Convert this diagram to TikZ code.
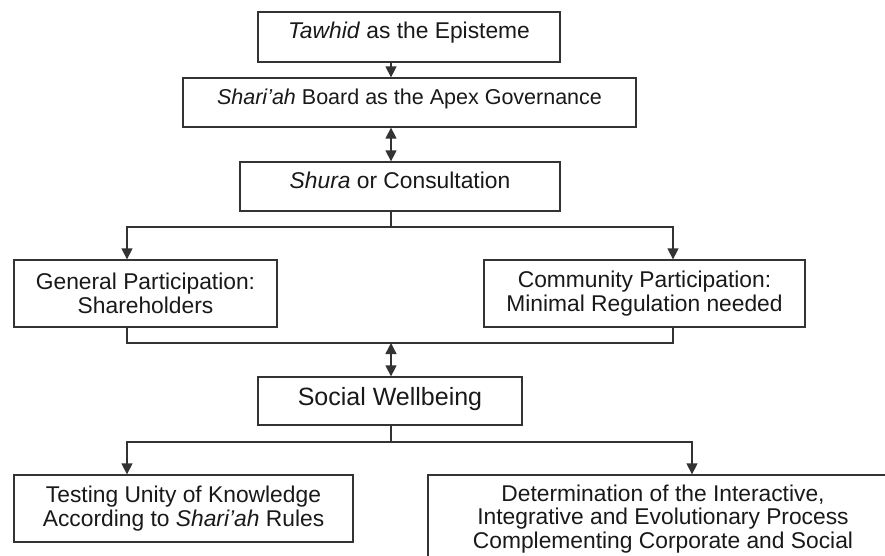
\documentclass[tikz,border=0pt]{standalone}
\usepackage{fontspec}
\setmainfont{Liberation Sans}
\usepackage{xcolor}
\usepackage{tikz}
\usetikzlibrary{arrows.meta}
\definecolor{linecolor}{HTML}{333333}
\tikzset{
  levelbox/.style={draw=linecolor, line width=1.3pt, rectangle, align=center, text=black!90, font=\fontsize{22.8}{23.5}\selectfont},
  oneline/.style={text height=16.5pt, text depth=12.5pt},
  link/.style={draw=linecolor, line width=1.4pt},
  flow/.style={link, -{Triangle[length=11pt, width=11pt]}},
  twoway/.style={link, {Triangle[length=11pt, width=11pt]}-{Triangle[length=11pt, width=11pt]}},
}

\begin{document}
\begin{tikzpicture}[x=1pt, y=-1pt]%
\path[use as bounding box, clip] (0,0) rectangle (885,556);%
\fill[white] (0,0) rectangle (885,556);%
\coordinate (axis) at (391,0);%
\coordinate (lcol) at (127,0);%
\coordinate (rcol) at (673,0);%
\coordinate (rcolb) at (692,0);%
\node[levelbox, oneline, minimum width=302pt, minimum height=50pt] (tawhid) at (409,37) {\textit{Tawhid} as the Episteme};%
\node[levelbox, oneline, minimum width=453pt, minimum height=49pt, font=\fontsize{21.5}{23}\selectfont] (board) at (409.5,102.5) {\textit{Shari’ah} Board as the Apex Governance};%
\node[levelbox, oneline, minimum width=320pt, minimum height=49pt] (shura) at (400,186.5) {\textit{Shura} or Consultation};%
\node[levelbox, minimum width=263pt, minimum height=67pt] (general) at (145.5,293.5) {General Participation:\\Shareholders};%
\node[levelbox, minimum width=321pt, minimum height=67pt] (community) at (644.5,293.5) {Community Participation:\\Minimal Regulation needed};%
\node[levelbox, minimum width=264pt, minimum height=48pt, text height=18pt, text depth=10pt, font=\fontsize{25}{27}\selectfont] (social) at (390,401) {Social Wellbeing};%
\node[levelbox, minimum width=339pt, minimum height=67pt] (testing) at (183.5,508.5) {Testing Unity of Knowledge\\According to \textit{Shari’ah} Rules};%
\node[levelbox, minimum width=470pt, minimum height=88pt] (determ) at (663,519) {Determination of the Interactive,\\Integrative and Evolutionary Process\\Complementing Corporate and Social};%
\coordinate (split1) at (391,227);%
\coordinate (join1) at (391,343);%
\coordinate (split2) at (391,442);%
\draw[flow] (tawhid.south -| axis) -- (board.north -| axis);%
\draw[twoway] (board.south -| axis) -- (shura.north -| axis);%
\draw[link] (shura.south -| axis) -- (split1);%
\draw[flow] (split1) -| (general.north -| lcol);%
\draw[flow] (split1) -| (community.north -| rcol);%
\draw[link] (general.south -| lcol) |- (join1) -| (community.south -| rcol);%
\draw[twoway] (join1) -- (social.north -| axis);%
\draw[link] (social.south -| axis) -- (split2);%
\draw[flow] (split2) -| (testing.north -| lcol);%
\draw[flow] (split2) -| (determ.north -| rcolb);%
\end{tikzpicture}
\end{document}
